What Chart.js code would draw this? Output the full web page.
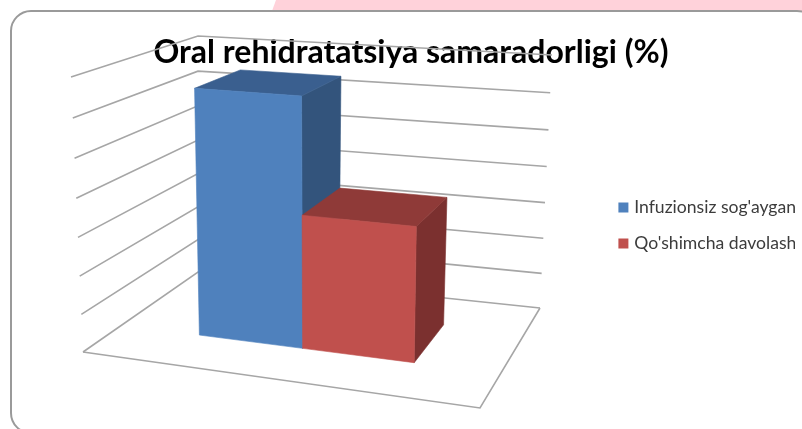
<!DOCTYPE html>
<html>
<head>
<meta charset="utf-8">
<style>html,body{margin:0;padding:0;background:#fff}canvas{display:block}</style>
<script src="https://cdn.jsdelivr.net/npm/chart.js@4"></script>
</head>
<body>
<canvas id="c" width="802" height="429"></canvas>
<script>
// ---- data ----
const categories = ['Oral rehidratatsiya'];
const seriesNames = ["Infuzionsiz sog'aygan", "Qo'shimcha davolash"];
const infuzionsiz = [65];
const qoshimcha = [35];
const axisMax = 70;
const axisStep = 10;
const chartTitle = 'Oral rehidratatsiya samaradorligi (%)';

// ---- view (perspective box of the 3-D plot) ----
const floorCorners = [[83,352],[480,408],[540,308],[198,272]]; // u0v0,u1v0,u1v1,u0v1
const topCorners   = [[71,77],[488,108],[552,55],[198,36]];
const RISE = 1.05, DEPTH0 = 0.30, DEPTH1 = 0.70, USHIFT = 0.0115;
const faces = [
  {front:'#4F81BD', top:'#3A5F8F', side:'#33547C'},
  {front:'#C0504D', top:'#8F3A38', side:'#7B302F'}
];

function homography(q){
  const [p0,p1,p2,p3]=q; // (0,0),(1,0),(1,1),(0,1)
  const dx1=p1[0]-p2[0],dx2=p3[0]-p2[0],sx=p0[0]-p1[0]+p2[0]-p3[0];
  const dy1=p1[1]-p2[1],dy2=p3[1]-p2[1],sy=p0[1]-p1[1]+p2[1]-p3[1];
  const den=dx1*dy2-dx2*dy1;
  const g=(sx*dy2-dx2*sy)/den,h=(dx1*sy-sx*dy1)/den;
  const a=p1[0]-p0[0]+g*p1[0],b=p3[0]-p0[0]+h*p3[0],c=p0[0];
  const d=p1[1]-p0[1]+g*p1[1],e=p3[1]-p0[1]+h*p3[1],f=p0[1];
  return (u,v)=>{const w=g*u+h*v+1;return [(a*u+b*v+c)/w,(d*u+e*v+f)/w];};
}
const floorH=homography(floorCorners), topH=homography(topCorners);
function project(u,v,t){
  const s=t/(t+(1-t)*RISE);
  const F=floorH(u,v),T=topH(u,v);
  return [F[0]+(T[0]-F[0])*s,F[1]+(T[1]-F[1])*s];
}
function poly(ctx,pts,fill){
  ctx.beginPath();pts.forEach((p,i)=>i?ctx.lineTo(p[0],p[1]):ctx.moveTo(p[0],p[1]));ctx.closePath();
  ctx.fillStyle=fill;ctx.strokeStyle=fill;ctx.lineWidth=0.6;ctx.fill();ctx.stroke();
}
function line(ctx,pts){
  ctx.beginPath();pts.forEach((p,i)=>i?ctx.lineTo(p[0],p[1]):ctx.moveTo(p[0],p[1]));ctx.stroke();
}

const perspective3D={
  id:'perspective3D',
  beforeDraw(chart){
    const ctx=chart.ctx;ctx.save();
    ctx.fillStyle='#fff';ctx.fillRect(0,0,802,429);
    ctx.fillStyle='#FFD2DA';
    ctx.beginPath();ctx.moveTo(276,0);ctx.lineTo(802,0);ctx.lineTo(802,11);ctx.lineTo(272,11);ctx.closePath();ctx.fill();
    ctx.strokeStyle='#9A9A9A';ctx.lineWidth=2;
    ctx.beginPath();ctx.roundRect(11,11,806,422,20);ctx.fillStyle='#fff';ctx.fill();ctx.stroke();
    ctx.restore();
  },
  beforeDatasetsDraw(chart){
    const ctx=chart.ctx,y=chart.scales.y;
    ctx.save();ctx.strokeStyle='#A6A6A6';ctx.lineWidth=1.6;
    y.ticks.forEach(tk=>{
      const t=(chart.chartArea.bottom-y.getPixelForValue(tk.value))/chart.chartArea.height;
      line(ctx,[project(0,0,t),project(0,1,t),project(1,1,t)]);
    });
    line(ctx,[project(0,0,0),project(1,0,0),project(1,1,0)]);
    ctx.restore();
  },
  beforeDatasetDraw(){return false;},
  afterDatasetsDraw(chart){
    const ctx=chart.ctx,A=chart.chartArea;
    ctx.save();
    chart.data.datasets.forEach((ds,i)=>{
      chart.getDatasetMeta(i).data.forEach(el=>{
        const u0=(el.x-el.width/2-A.left)/A.width+USHIFT,u1=(el.x+el.width/2-A.left)/A.width+USHIFT;
        const t=(A.bottom-el.y)/A.height;
        const c=faces[i];
        poly(ctx,[project(u1,DEPTH0,0),project(u1,DEPTH1,0),project(u1,DEPTH1,t),project(u1,DEPTH0,t)],c.side);
        poly(ctx,[project(u0,DEPTH0,t),project(u1,DEPTH0,t),project(u1,DEPTH1,t),project(u0,DEPTH1,t)],c.top);
        poly(ctx,[project(u0,DEPTH0,0),project(u1,DEPTH0,0),project(u1,DEPTH0,t),project(u0,DEPTH0,t)],c.front);
      });
    });
    ctx.restore();
  }
};

new Chart(document.getElementById('c'),{
  type:'bar',
  data:{
    labels:categories,
    datasets:[
      {label:seriesNames[0],data:infuzionsiz,backgroundColor:faces[0].front,borderColor:faces[0].front,borderWidth:6},
      {label:seriesNames[1],data:qoshimcha,backgroundColor:faces[1].front,borderColor:faces[1].front,borderWidth:6}
    ]
  },
  options:{
    responsive:false,animation:false,devicePixelRatio:1,
    layout:{padding:{left:27,right:7,top:22,bottom:0}},
    datasets:{bar:{categoryPercentage:0.567,barPercentage:1}},
    scales:{
      x:{grid:{display:false},border:{display:false},ticks:{display:false}},
      y:{min:0,max:axisMax,grid:{display:false},border:{display:false},ticks:{display:false,stepSize:axisStep}}
    },
    plugins:{
      title:{display:true,text:chartTitle,z:1,color:'#000',font:{family:'Lato',size:32,weight:'bold'},padding:{top:11,bottom:8}},
      legend:{position:'right',labels:{font:{family:'Lato',size:17.6},color:'#3C3C3C',boxWidth:4,boxHeight:4,padding:18.4}},
      tooltip:{enabled:false}
    }
  },
  plugins:[perspective3D]
});
</script>
</body>
</html>
